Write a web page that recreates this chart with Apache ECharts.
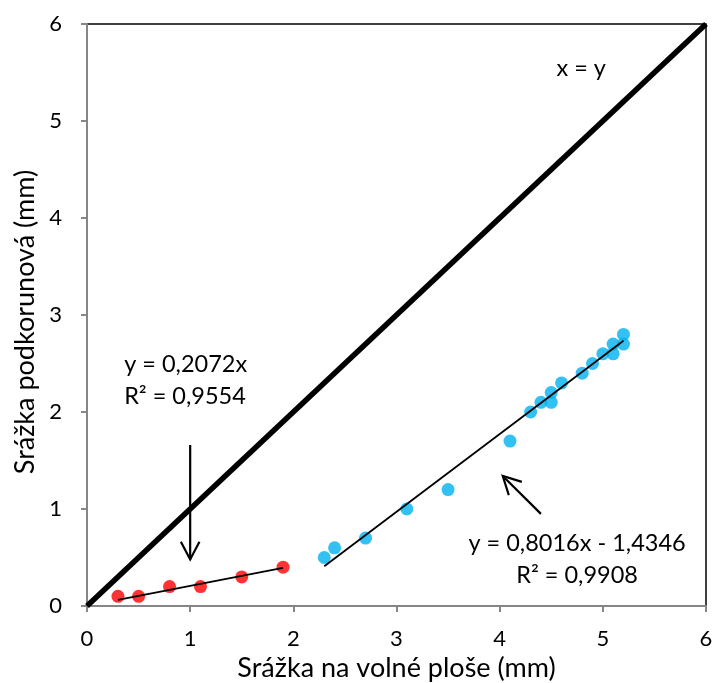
<!DOCTYPE html>
<html>
<head>
<meta charset="utf-8">
<script src="https://cdn.jsdelivr.net/npm/echarts@6/dist/echarts.min.js"></script>
<style>
  html, body { margin: 0; padding: 0; background: #fff; }
  #chart { width: 713px; height: 683px; }
</style>
</head>
<body>
<div id="chart"></div>
<script>
// Throughfall vs. open-area precipitation (mm)
const redX  = [0.3, 0.5, 0.8, 1.1, 1.5, 1.9];
const redY  = [0.1, 0.1, 0.2, 0.2, 0.3, 0.4];
const blueX = [2.3, 2.4, 2.7, 3.1, 3.5, 4.1, 4.3, 4.4, 4.5, 4.5, 4.6, 4.8, 4.9, 5.0, 5.1, 5.1, 5.2, 5.2];
const blueY = [0.5, 0.6, 0.7, 1.0, 1.2, 1.7, 2.0, 2.1, 2.2, 2.1, 2.3, 2.4, 2.5, 2.6, 2.7, 2.6, 2.8, 2.7];

// Linear fits as stated in the labels
const redFit  = { slope: 0.2072, intercept: 0 };
const blueFit = { slope: 0.8016, intercept: -1.4346 };

const axisTicks = [0, 1, 2, 3, 4, 5, 6];
const identityLine = [[0, 0], [6, 6]];

// Annotation arrows: [tailX, tailY, headX, headY]
const arrows = [
  [1.0, 1.66, 1.0, 0.48],
  [4.40, 0.95, 4.03, 1.34]
];

// Text annotations: [x, y, text, align]
const notes = [
  [4.79, 5.54, 'x = y', 'center'],
  [0.36, 2.33, 'y = 0,2072x\nR² = 0,9554', 'left'],
  [4.75, 0.48, 'y = 0,8016x - 1,4346\nR² = 0,9908', 'center']
];

const FONT = 'Lato, "Open Sans", sans-serif';

function fitLine(fit, xs) {
  const lo = Math.min(...xs), hi = Math.max(...xs);
  return [[lo, fit.slope * lo + fit.intercept], [hi, fit.slope * hi + fit.intercept]];
}

function zipXY(xs, ys) { return xs.map((x, i) => [x, ys[i]]); }

const chart = echarts.init(document.getElementById('chart'), null, { renderer: 'canvas' });

chart.setOption({
  animation: false,
  backgroundColor: '#fff',
  grid: {
    left: 87, right: 7, top: 24, bottom: 77,
    outerBoundsMode: 'none', containLabel: false,
    show: true, borderColor: '#000', borderWidth: 1.5, backgroundColor: 'transparent'
  },
  xAxis: {
    type: 'value', min: 0, max: 6, interval: 1,
    name: 'Srážka na volné ploše (mm)',
    nameLocation: 'middle', nameGap: 46,
    nameTextStyle: { fontFamily: FONT, fontSize: 27, color: '#000' },
    axisLine: { show: true, lineStyle: { color: '#868686', width: 2 } },
    axisTick: { show: true, length: 6, lineStyle: { color: '#868686', width: 2 } },
    axisLabel: { fontFamily: FONT, fontSize: 22, color: '#000', margin: 22,
      formatter: v => axisTicks.includes(v) ? String(v) : '' },
    splitLine: { show: false }
  },
  yAxis: {
    type: 'value', min: 0, max: 6, interval: 1,
    name: 'Srážka podkorunová (mm)',
    nameLocation: 'middle', nameGap: 46, nameRotate: 90,
    nameTextStyle: { fontFamily: FONT, fontSize: 27, color: '#000', padding: [0, 14, 0, 0] },
    axisLine: { show: true, lineStyle: { color: '#868686', width: 2 } },
    axisTick: { show: true, length: 6, lineStyle: { color: '#868686', width: 2 } },
    axisLabel: { fontFamily: FONT, fontSize: 22, color: '#000', margin: 25 },
    splitLine: { show: false }
  },
  series: [
    {
      name: 'x = y', type: 'line', data: identityLine, symbol: 'none',
      lineStyle: { color: '#000', width: 5.5 }, z: 3
    },
    {
      name: 'fit-red', type: 'line', data: fitLine(redFit, redX), symbol: 'none',
      lineStyle: { color: '#000', width: 1.8 }, z: 5
    },
    {
      name: 'fit-blue', type: 'line', data: fitLine(blueFit, blueX), symbol: 'none',
      lineStyle: { color: '#000', width: 1.8 }, z: 5
    },
    {
      name: 'red', type: 'scatter', data: zipXY(redX, redY), symbolSize: 13,
      itemStyle: { color: '#FF0000' }, z: 4
    },
    {
      name: 'blue', type: 'scatter', data: zipXY(blueX, blueY), symbolSize: 13,
      itemStyle: { color: '#00B0F0' }, z: 4
    },
    {
      name: 'arrows', type: 'custom', data: arrows, z: 6,
      renderItem: function (params, api) {
        const a = api.coord([api.value(0), api.value(1)]);
        const b = api.coord([api.value(2), api.value(3)]);
        const ang = Math.atan2(b[1] - a[1], b[0] - a[0]);
        const len = 20, spread = Math.PI / 6.5;
        const p1 = [b[0] - len * Math.cos(ang - spread), b[1] - len * Math.sin(ang - spread)];
        const p2 = [b[0] - len * Math.cos(ang + spread), b[1] - len * Math.sin(ang + spread)];
        const style = { stroke: '#000', lineWidth: 2.2, fill: null };
        return {
          type: 'group',
          children: [
            { type: 'line', shape: { x1: a[0], y1: a[1], x2: b[0], y2: b[1] }, style: style },
            { type: 'polyline', shape: { points: [p1, b, p2] }, style: style }
          ]
        };
      }
    },
    {
      name: 'notes', type: 'custom', data: notes, z: 7,
      renderItem: function (params, api) {
        const n = notes[params.dataIndex];
        const p = api.coord([n[0], n[1]]);
        return {
          type: 'text',
          x: p[0], y: p[1],
          style: {
            text: n[2], fill: '#000', font: '23.5px ' + FONT,
            align: n[3], verticalAlign: 'middle', lineHeight: 32
          }
        };
      }
    }
  ]
});
</script>
</body>
</html>
